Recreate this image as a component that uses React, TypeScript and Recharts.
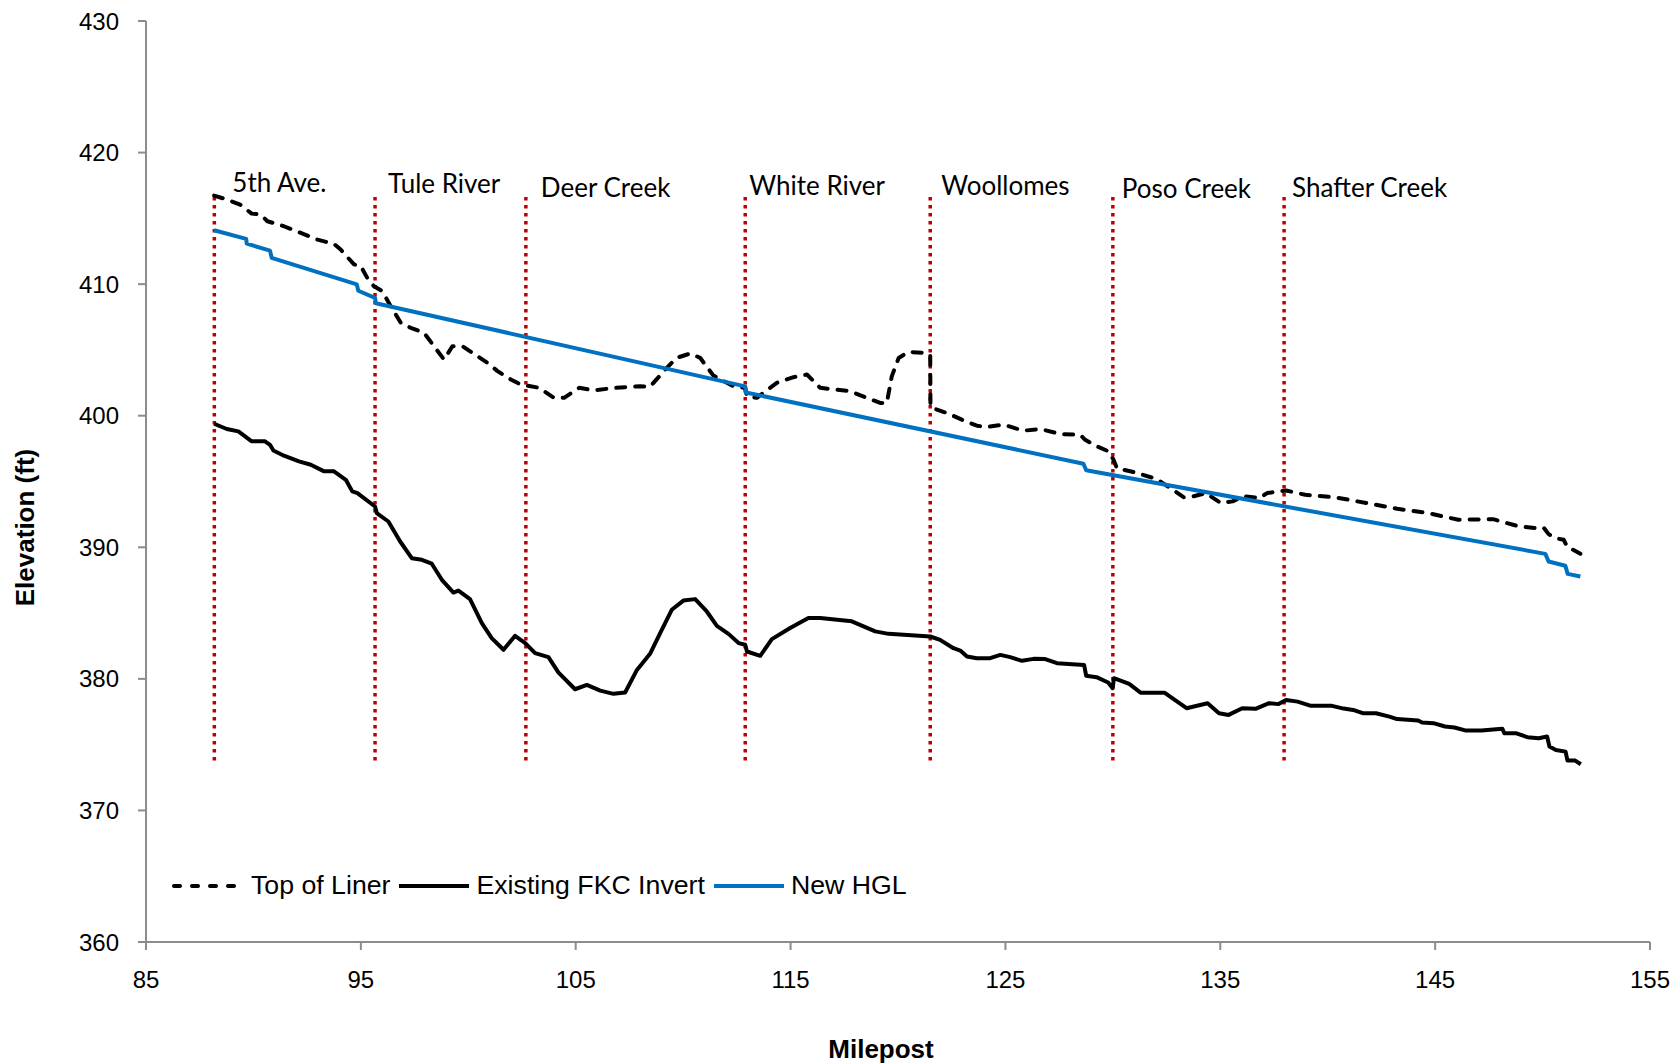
import React from "react";
import { LineChart, Line, XAxis, YAxis, ReferenceLine, Legend } from "recharts";

// Top of Liner (dashed)
const linerMile = [
  88.17, 88.76, 89.38, 89.92, 90.34, 90.65, 91.42, 92.2, 92.98, 93.75, 94.06, 94.68, 95.0, 95.3, 95.61, 96.0,
  96.39, 96.86, 97.32, 97.94, 98.87, 99.26, 99.73, 100.89, 101.36, 101.98, 102.44, 103.3, 103.99, 104.46,
  105.16, 105.85, 106.76, 108.0, 108.46, 109.24, 109.7, 110.33, 110.79, 111.41, 112.34, 112.89, 112.97,
  113.43, 114.36, 115.14, 115.76, 116.38, 117.77, 118.55, 119.17, 119.48, 119.71, 120.03, 120.49, 121.35,
  121.5, 121.51, 121.73, 122.28, 122.97, 123.67, 124.14, 124.91, 125.84, 126.62, 127.55, 128.48, 128.71,
  129.26, 129.8, 130.03, 130.19, 131.04, 132.05, 132.67, 133.29, 133.6, 134.32, 135.03, 135.57, 136.1,
  136.82, 137.18, 138.06, 138.95, 140.38, 141.81, 143.23, 144.66, 146.08, 147.69, 148.22, 148.93, 149.66,
  150.05, 150.28, 150.6, 150.98, 151.14, 151.76,
];
const linerElev = [
  416.73, 416.43, 416.05, 415.36, 415.29, 414.78, 414.4, 413.9, 413.38, 413.06, 412.63, 411.5, 411.36, 410.47,
  409.84, 409.46, 408.32, 407.06, 406.68, 406.3, 404.27, 405.28, 405.28, 404.02, 403.39, 402.75, 402.37,
  402.12, 401.36, 401.36, 402.12, 401.92, 402.11, 402.24, 402.2, 403.64, 404.4, 404.73, 404.4, 403.05,
  402.24, 402.11, 401.48, 401.36, 402.5, 402.93, 403.13, 402.12, 401.86, 401.36, 400.97, 400.97, 402.99,
  404.39, 404.85, 404.77, 404.6, 400.71, 400.51, 400.2, 399.7, 399.24, 399.14, 399.32, 398.86, 398.99,
  398.61, 398.55, 398.17, 397.67, 397.29, 396.65, 396.0, 395.69, 395.18, 394.5, 393.81, 393.81, 394.12,
  393.36, 393.49, 393.87, 393.74, 394.12, 394.32, 393.99, 393.79, 393.36, 392.93, 392.6, 392.09, 392.14,
  391.89, 391.58, 391.46, 391.5, 391.0, 390.7, 390.57, 390.06, 389.5,
];

// Existing FKC Invert (solid black)
const invertMile = [
  88.17, 88.76, 89.3, 89.92, 90.54, 90.77, 90.93, 91.42, 92.12, 92.67, 93.29, 93.75, 94.3, 94.6, 94.84,
  95.66, 95.74, 96.28, 96.83, 97.37, 97.84, 98.3, 98.77, 99.31, 99.54, 100.08, 100.63, 101.09, 101.64,
  102.18, 102.65, 103.11, 103.73, 104.2, 104.97, 105.52, 106.14, 106.76, 107.3, 107.85, 108.46, 108.93,
  109.47, 110.01, 110.56, 111.1, 111.57, 112.11, 112.58, 112.89, 112.97, 113.59, 114.13, 114.98, 115.83,
  116.38, 117.85, 118.94, 119.56, 121.5, 121.96, 122.58, 122.9, 123.21, 123.67, 124.29, 124.76, 125.22,
  125.77, 126.31, 126.85, 127.4, 128.66, 128.76, 129.24, 129.78, 129.99, 130.05, 130.76, 131.29, 132.4,
  133.43, 134.41, 134.94, 135.39, 136.02, 136.64, 137.27, 137.71, 138.06, 138.6, 139.22, 140.2, 140.74,
  141.18, 141.63, 142.25, 142.87, 143.23, 144.21, 144.39, 144.92, 145.46, 145.9, 146.44, 147.15, 148.13,
  148.22, 148.75, 149.29, 149.82, 150.21, 150.32, 150.62, 151.07, 151.16, 151.52, 151.78,
];
const invertElev = [
  399.39, 398.99, 398.81, 398.05, 398.05, 397.79, 397.36, 396.96, 396.53, 396.27, 395.77, 395.77, 395.13,
  394.25, 394.12, 393.1, 392.6, 391.96, 390.44, 389.17, 389.05, 388.75, 387.53, 386.56, 386.71, 386.06,
  384.24, 383.1, 382.21, 383.27, 382.72, 381.96, 381.65, 380.48, 379.21, 379.54, 379.11, 378.86, 378.96,
  380.68, 381.9, 383.47, 385.25, 385.95, 386.06, 385.12, 384.03, 383.42, 382.72, 382.59, 382.08, 381.75,
  383.02, 383.86, 384.62, 384.62, 384.37, 383.61, 383.42, 383.22, 382.96, 382.33, 382.15, 381.7, 381.57,
  381.57, 381.82, 381.65, 381.37, 381.52, 381.5, 381.19, 381.06, 380.23, 380.13, 379.72, 379.29, 380.05,
  379.62, 378.95, 378.95, 377.77, 378.15, 377.39, 377.26, 377.77, 377.72, 378.15, 378.08, 378.4, 378.27,
  377.95, 377.95, 377.74, 377.64, 377.39, 377.39, 377.13, 376.94, 376.83, 376.68, 376.63, 376.38, 376.3,
  376.07, 376.07, 376.2, 375.87, 375.87, 375.57, 375.49, 375.62, 374.86, 374.6, 374.47, 373.79, 373.79,
  373.51,
];

// New HGL (blue)
const hglMile = [
  88.17, 89.66, 89.69, 90.77, 90.85, 94.81, 94.88, 95.66, 95.7, 112.89, 112.92, 128.63, 128.76, 150.13,
  150.28, 151.06, 151.17, 151.76,
];
const hglElev = [
  414.1, 413.44, 413.08, 412.55, 412.0, 409.98, 409.5, 408.96, 408.55, 402.23, 401.77, 396.35, 395.85, 389.5,
  388.92, 388.6, 387.98, 387.78,
];

// Crossings marked with red dotted lines
const crossingMile = [88.18, 95.66, 102.68, 112.89, 121.5, 130.0, 137.97];
const crossingName = ["5th Ave.", "Tule River", "Deer Creek", "White River", "Woollomes", "Poso Creek", "Shafter Creek"];
const markerRange = [373.8, 416.7];

const xTicks = [85, 95, 105, 115, 125, 135, 145, 155];
const yTicks = [360, 370, 380, 390, 400, 410, 420, 430];

// label offset from the top of each marker line [dx, dy]
const labelShift = [[18, -4], [13, -3], [15, 1], [4, -1], [11, -1], [9, 2], [8, 1]];

const toRows = (miles: number[], elevs: number[]) => miles.map((m, i) => ({ mile: m, elev: elevs[i] }));

const linerData = toRows(linerMile, linerElev);
const invertData = toRows(invertMile, invertElev);
const hglData = toRows(hglMile, hglElev);

const SANS = '"Liberation Sans", Arial, sans-serif';
const AXIS_GRAY = "#8c8c8c";

const series = [
  { name: "Top of Liner", color: "#000", dash: "6 12" },
  { name: "Existing FKC Invert", color: "#000", dash: undefined },
  { name: "New HGL", color: "#0070C0", dash: undefined },
];

const renderLegend = () => (
  <div style={{ display: "flex", alignItems: "center", fontFamily: SANS, fontSize: 26.7, color: "#000", whiteSpace: "nowrap" }}>
    {series.map((s) => (
      <div key={s.name} style={{ display: "flex", alignItems: "center", marginRight: 5 }}>
        <svg width={78} height={10}>
          <line x1={4} y1={5} x2={74} y2={5} stroke={s.color} strokeWidth={4} strokeDasharray={s.dash} strokeLinecap={s.dash ? "round" : "butt"} />
        </svg>
        <span style={{ marginLeft: 3 }}>{s.name}</span>
      </div>
    ))}
  </div>
);

const crossingLabel = (i: number) => (props: any) => {
  const vb = props.viewBox;
  return (
    <text x={vb.x + labelShift[i][0]} y={vb.y + labelShift[i][1]} fontFamily="Lato, 'Open Sans', sans-serif" fontSize={26} fill="#000">
      {crossingName[i]}
    </text>
  );
};

const yTitle = (props: any) => {
  const vb = props.viewBox;
  const cx = vb.x + 25;
  const cy = vb.y + vb.height / 2 + 46;
  return (
    <text x={cx} y={cy} transform={`rotate(-90, ${cx}, ${cy})`} textAnchor="middle" dominantBaseline="central" fontFamily={SANS} fontWeight="bold" fontSize={26} fill="#000">
      Elevation (ft)
    </text>
  );
};

export default function App() {
  return (
    <div style={{ position: "absolute", left: 0, top: 0, width: 1676, height: 1064, background: "#fff" }}>
      <LineChart width={1676} height={1064} margin={{ top: 21, right: 26, bottom: 0, left: 0 }}>
        <XAxis
          type="number"
          dataKey="mile"
          domain={[85, 155]}
          ticks={xTicks}
          height={122}
          stroke={AXIS_GRAY}
          strokeWidth={2}
          tickSize={8}
          tickMargin={21}
          tick={{ fill: "#000", fontSize: 24, fontFamily: SANS }}
          allowDuplicatedCategory={false}
        />
        <YAxis
          type="number"
          domain={[360, 430]}
          ticks={yTicks}
          width={146}
          stroke={AXIS_GRAY}
          strokeWidth={2}
          tickSize={8}
          tickMargin={19}
          tick={{ fill: "#000", fontSize: 24, fontFamily: SANS }}
          label={yTitle}
        />
        {crossingMile.map((m, i) => (
          <ReferenceLine
            key={crossingName[i]}
            segment={[{ x: m, y: markerRange[0] }, { x: m, y: markerRange[1] }]}
            stroke="#C00000"
            strokeWidth={3.5}
            strokeDasharray="3.5 4.5"
            label={crossingLabel(i)}
          />
        ))}
        <Line data={linerData} dataKey="elev" name="Top of Liner" type="linear" stroke="#000" strokeWidth={4} strokeDasharray="9 10" strokeLinecap="round" strokeLinejoin="round" dot={false} isAnimationActive={false} />
        <Line data={invertData} dataKey="elev" name="Existing FKC Invert" type="linear" stroke="#000" strokeWidth={4} strokeLinejoin="round" dot={false} isAnimationActive={false} />
        <Line data={hglData} dataKey="elev" name="New HGL" type="linear" stroke="#0070C0" strokeWidth={4} strokeLinejoin="round" dot={false} isAnimationActive={false} />
        <Legend
          layout="horizontal"
          verticalAlign="middle"
          align="center"
          content={renderLegend}
          wrapperStyle={{ left: 170, top: 870, width: "auto" }}
        />
      </LineChart>
      <div
        style={{
          position: "absolute",
          left: 881,
          top: 1049,
          transform: "translate(-50%, -50%)",
          fontFamily: SANS,
          fontWeight: "bold",
          fontSize: 26,
          color: "#000",
          whiteSpace: "nowrap",
          lineHeight: 1,
        }}
      >
        Milepost
      </div>
    </div>
  );
}
